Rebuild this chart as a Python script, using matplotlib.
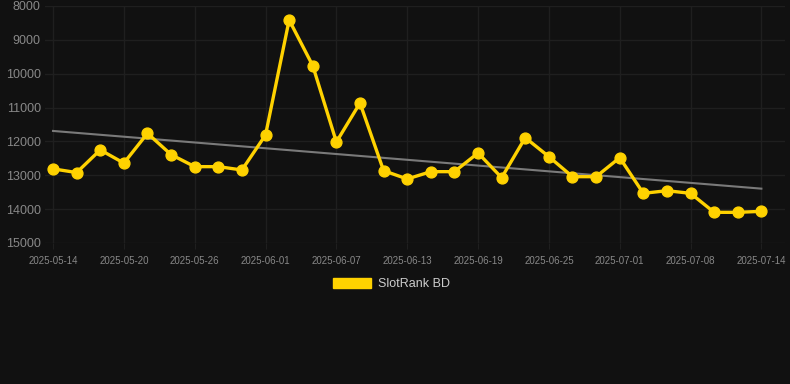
import matplotlib
matplotlib.use("Agg")
import matplotlib.pyplot as plt
import numpy as np
from matplotlib.patches import Patch

plt.rcParams['font.family'] = ['Liberation Sans', 'DejaVu Sans']

dates = ["2025-05-14", "2025-05-16", "2025-05-18", "2025-05-20", "2025-05-22", "2025-05-24",
         "2025-05-26", "2025-05-28", "2025-05-30", "2025-06-01", "2025-06-03", "2025-06-05",
         "2025-06-07", "2025-06-09", "2025-06-11", "2025-06-13", "2025-06-15", "2025-06-17",
         "2025-06-19", "2025-06-21", "2025-06-23", "2025-06-25", "2025-06-27", "2025-06-29",
         "2025-07-01", "2025-07-03", "2025-07-05", "2025-07-08", "2025-07-10", "2025-07-12",
         "2025-07-14"]
ranks = [12810, 12920, 12250, 12640, 11760, 12390, 12745, 12745, 12843, 11810,
         8413, 9763, 12017, 10865, 12864, 13109, 12893, 12893, 12341, 13070,
         11889, 12450, 13041, 13041, 12480, 13533, 13455, 13533, 14094, 14094, 14065]
series_name = "SlotRank BD"
yticks = [8000, 9000, 10000, 11000, 12000, 13000, 14000, 15000]

bg = "#111111"
gold = "#FFD200"
fig = plt.figure(figsize=(7.9, 3.84), dpi=100, facecolor=bg)
ax = fig.add_axes([45/790, 1-243/384, 740/790, 237/384])
ax.set_facecolor(bg)

x = np.arange(len(ranks))
coef = np.polyfit(x, ranks, 1)
ax.plot(x, np.polyval(coef, x), color="#7a7a7a", lw=1.5, zorder=2)
ax.plot(x, ranks, color=gold, lw=2.4, marker="o", ms=7.8, zorder=3)

ax.set_ylim(15000, 8000)
ax.set_yticks(yticks)
ax.set_yticklabels([str(v) for v in yticks])
ax.set_xlim(-0.34, 31.0)
ax.set_xticks(x[::3])
ax.set_xticklabels([dates[i] for i in range(0, len(dates), 3)])

ax.grid(True, color="#1f1f1f", lw=1.0)
ax.set_axisbelow(True)
for s in ax.spines.values():
    s.set_visible(False)
ax.tick_params(axis="y", length=0, pad=3, labelsize=9, labelcolor="#888888")
ax.tick_params(axis="x", length=4, width=0.8, color="#1f1f1f", pad=5, labelsize=7, labelcolor="#888888")

fig.legend(handles=[Patch(facecolor=gold, edgecolor=gold)], labels=[series_name],
           loc="center", bbox_to_anchor=(391/790, 1-284/384), frameon=False,
           fontsize=9, labelcolor="#cccccc", handlelength=3.1, handleheight=0.95,
           handletextpad=0.5)

fig.savefig("out.png", dpi=100, facecolor=bg)
